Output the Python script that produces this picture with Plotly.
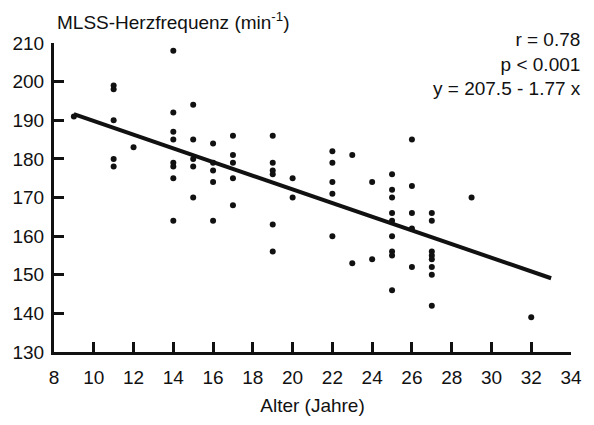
import plotly.graph_objects as go

# Data (age in years, MLSS heart rate in 1/min)
ages = (
    [9]
    + [11] * 5
    + [12]
    + [14] * 8
    + [15] * 5
    + [16] * 5
    + [17] * 5
    + [19] * 6
    + [20] * 2
    + [22] * 5
    + [23] * 2
    + [24] * 2
    + [25] * 9
    + [26] * 5
    + [27] * 8
    + [29]
    + [32]
)
hr = (
    [191]
    + [199, 198, 190, 180, 178]
    + [183]
    + [208, 192, 187, 185, 179, 178, 175, 164]
    + [194, 185, 180, 178, 170]
    + [184, 179, 177, 174, 164]
    + [186, 181, 179, 175, 168]
    + [186, 179, 177, 176, 163, 156]
    + [175, 170]
    + [182, 179, 174, 171, 160]
    + [181, 153]
    + [174, 154]
    + [176, 172, 170, 166, 164, 160, 156, 155, 146]
    + [185, 173, 166, 162, 152]
    + [166, 164, 156, 155, 154, 152, 150, 142]
    + [170]
    + [139]
)

# Regression line y = 207.5 - 1.77 x
intercept = 207.5
slope = -1.77
line_x = [9, 33]
line_y = [intercept + slope * v for v in line_x]

x_ticks = list(range(8, 35, 2))
y_ticks = list(range(130, 211, 10))

title_text = "MLSS-Herzfrequenz (min<sup>-1</sup>)"
stats_lines = ["r = 0.78", "p < 0.001", "y = 207.5 - 1.77 x"]
x_title = "Alter (Jahre)"

FONT = "Liberation Sans, Arial, Helvetica, sans-serif"
FS = 19

fig = go.Figure()
fig.add_trace(go.Scatter(
    x=line_x, y=line_y, mode="lines",
    line=dict(color="#111111", width=4), hoverinfo="skip", showlegend=False,
))
fig.add_trace(go.Scatter(
    x=ages, y=hr, mode="markers",
    marker=dict(color="#111111", size=6, line=dict(width=0)),
    showlegend=False,
))

fig.update_layout(
    width=594, height=425,
    margin=dict(l=52, r=13, t=43, b=71),
    paper_bgcolor="white", plot_bgcolor="white",
    font=dict(family=FONT, size=FS, color="#111111"),
    xaxis=dict(
        range=[8, 34], tickvals=x_ticks, ticktext=[str(v) for v in x_ticks],
        showgrid=False, zeroline=False,
        showline=True, linecolor="#111111", linewidth=3,
        ticks="inside", ticklen=10, tickwidth=3, tickcolor="#111111",
        tickfont=dict(size=FS), ticklabelstandoff=6,
        title=dict(text=x_title, font=dict(size=FS), standoff=12),
    ),
    yaxis=dict(
        range=[130, 210], tickvals=y_ticks, ticktext=[str(v) for v in y_ticks],
        showgrid=False, zeroline=False,
        showline=True, linecolor="#111111", linewidth=3,
        ticks="inside", ticklen=10, tickwidth=3, tickcolor="#111111",
        tickfont=dict(size=FS), ticklabelstandoff=3,
    ),
    annotations=[
        dict(text=title_text, xref="paper", yref="paper", x=0.0, y=1.0,
             xanchor="left", yanchor="bottom", xshift=1, yshift=8, showarrow=False,
             font=dict(size=FS)),
        dict(text="<br>".join(stats_lines), xref="paper", yref="paper",
             x=1.0, y=1.0, xanchor="right", yanchor="top", xshift=12, yshift=16,
             align="right", showarrow=False, font=dict(size=FS)),
    ],
)

fig.write_html("out.html")
